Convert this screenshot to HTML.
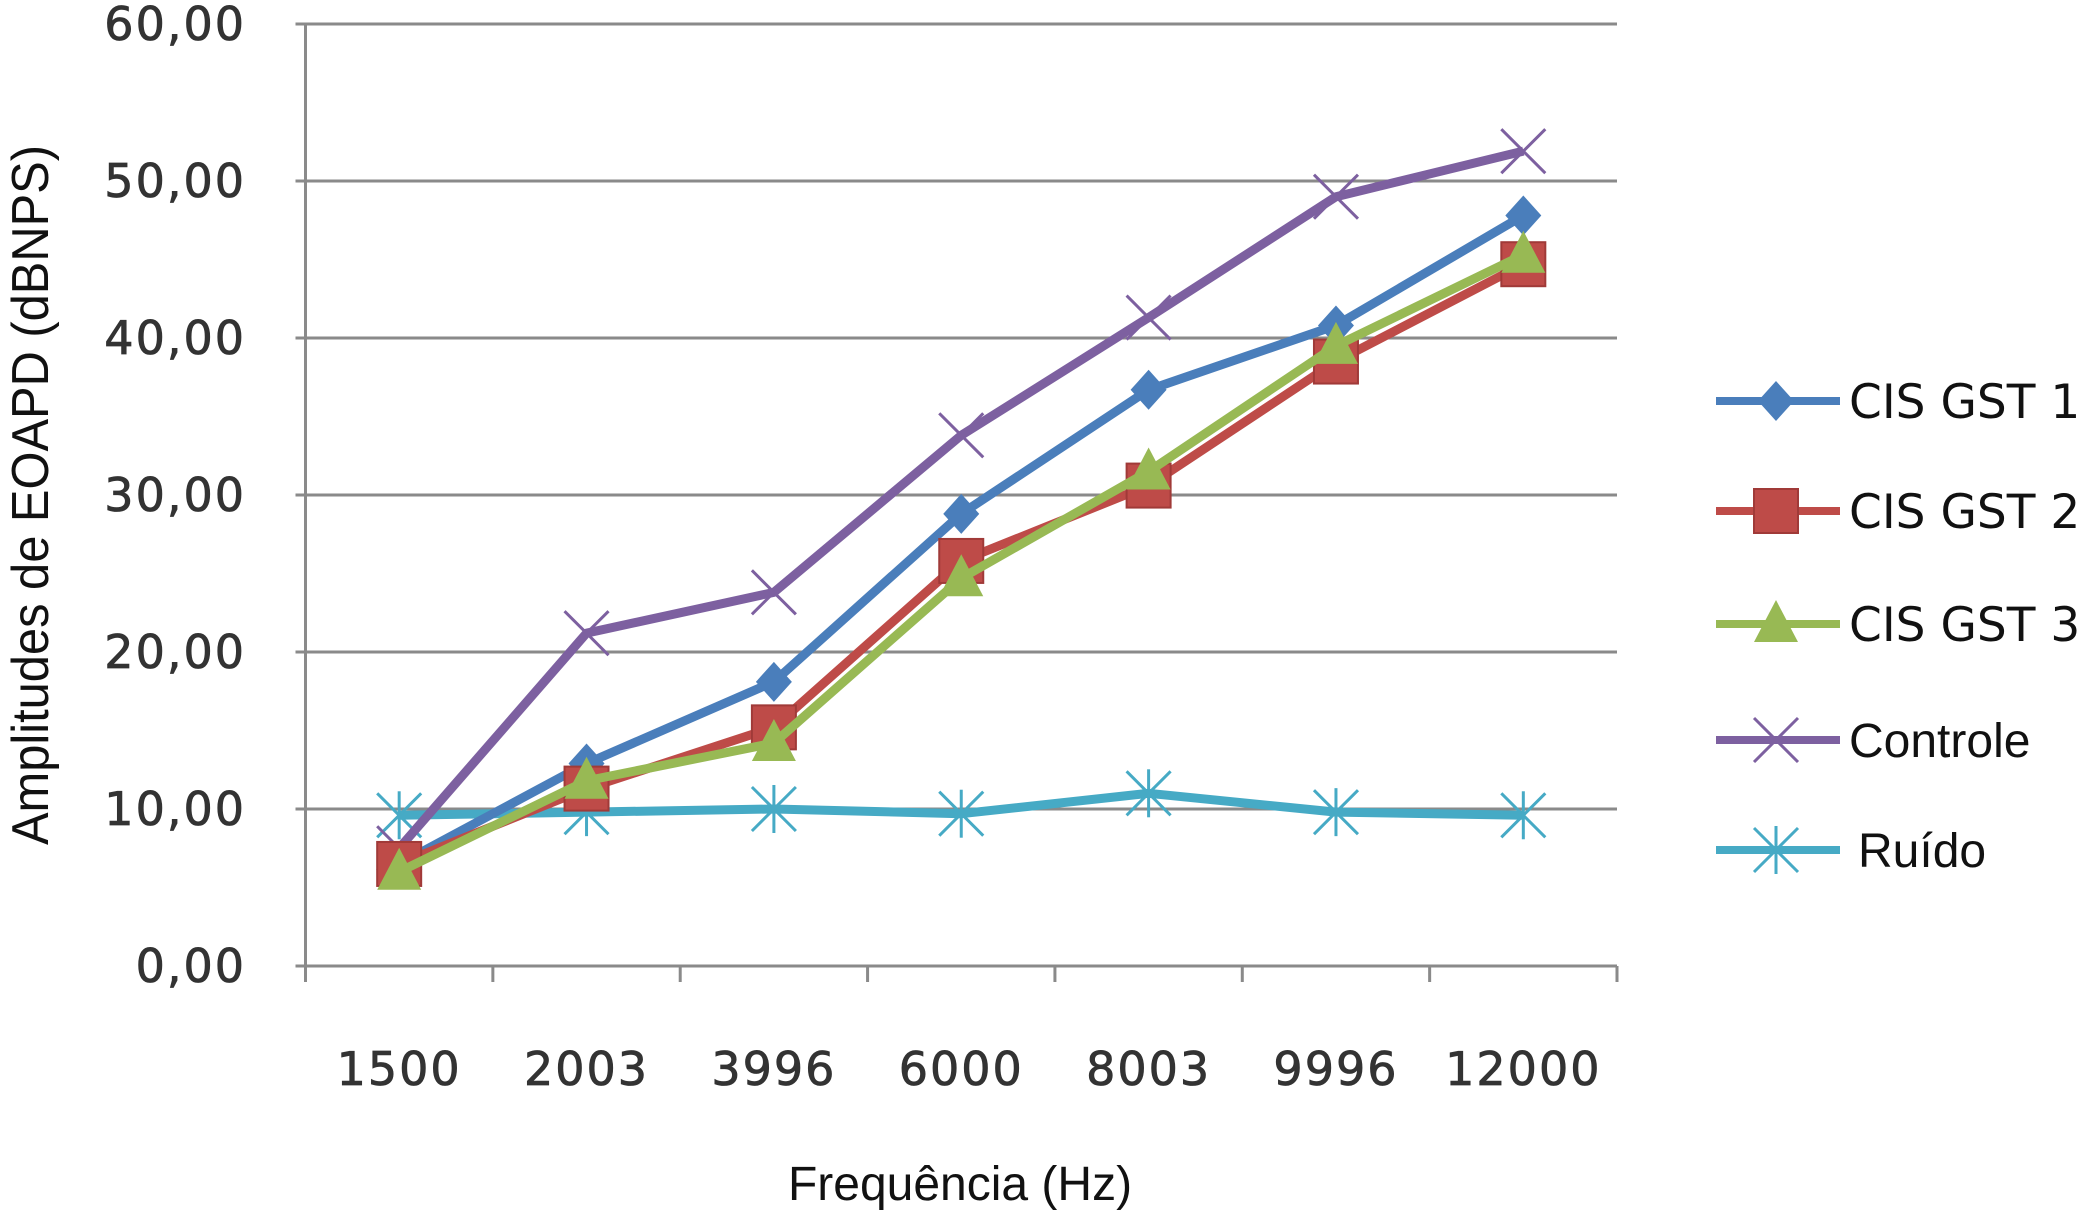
<!DOCTYPE html>
<html><head><meta charset="utf-8"><style>
html,body{margin:0;padding:0;background:#fff;width:2083px;height:1222px;overflow:hidden}
svg{display:block}
</style></head><body>
<svg id="chart" width="2083" height="1222" viewBox="0 0 2083 1222" xmlns="http://www.w3.org/2000/svg"></svg>
<script>
const categories = ["1500","2003","3996","6000","8003","9996","12000"];
const yTicks = [0,10,20,30,40,50,60];
const yTickLabels = ["0,00","10,00","20,00","30,00","40,00","50,00","60,00"];
const seriesNames = ["CIS GST 1","CIS GST 2","CIS GST 3","Controle","Ruído"];
const gst1 = [6.5,12.9,18.1,28.8,36.7,40.8,47.8];
const gst2 = [6.5,11.3,15.2,25.8,30.6,38.5,44.7];
const gst3 = [6.0,11.8,14.2,24.7,31.5,39.5,45.3];
const controle = [7.5,21.2,23.8,33.8,41.3,49.0,51.9];
const ruido = [9.6,9.8,10.0,9.7,11.0,9.8,9.6];

const NS="http://www.w3.org/2000/svg";
const svg=document.getElementById('chart');
const L=305.5,R=1617,T=24,B=966,YMAX=60;
const band=(R-L)/categories.length;
const xS=i=>L+band*(i+0.5);
const yS=v=>B-(v/YMAX)*(B-T);
function mk(tag,attrs,parent){const e=document.createElementNS(NS,tag);for(const k in attrs)e.setAttribute(k,attrs[k]);(parent||svg).appendChild(e);return e;}

yTicks.forEach((t,i)=>{
  const g=mk('line',{x1:L-10,x2:R,y1:yS(t),y2:yS(t),stroke:'#8a8a8a','stroke-width':3});
  
  
  const tx=mk('text',{x:246,y:yS(t)+16,'text-anchor':'end','font-family':'DejaVu Sans, sans-serif','font-size':46,fill:'#333',stroke:'#333','stroke-width':0.8,'letter-spacing':2});
  tx.textContent=yTickLabels[i];
  
  
});
const ya=mk('line',{x1:L,x2:L,y1:T,y2:B+14,stroke:'#8a8a8a','stroke-width':3});


for(let i=0;i<=categories.length;i++){
  const tk=mk('line',{x1:L+band*i,x2:L+band*i,y1:B,y2:B+16,stroke:'#8a8a8a','stroke-width':3});
  
  
}
categories.forEach((c,i)=>{
  const tx=mk('text',{x:xS(i),y:1085,'text-anchor':'middle','font-family':'DejaVu Sans, sans-serif','font-size':46,fill:'#333',stroke:'#333','stroke-width':0.8,'letter-spacing':2});
  tx.textContent=c;
  
  
});
const yt=mk('text',{x:0,y:0,transform:'translate(48,495) rotate(-90)','text-anchor':'middle','font-family':'Liberation Sans, sans-serif','font-size':52,fill:'#111',textLength:700,lengthAdjust:'spacingAndGlyphs'});
yt.textContent='Amplitudes de EOAPD (dBNPS)';


const xt=mk('text',{x:960,y:1200,'text-anchor':'middle','font-family':'Liberation Sans, sans-serif','font-size':48,fill:'#111'});
xt.textContent='Frequência (Hz)';



const colors=['#4a7ebb','#be4b48','#98b954','#7d60a0','#46aac5'];
const markers=['diamond','square','triangle','x','star'];
function marker(type,x,y,col,parent){
  if(type==='diamond')return mk('polygon',{points:`${x},${y-20} ${x+18},${y} ${x},${y+20} ${x-18},${y}`,fill:col},parent);
  if(type==='square')return mk('rect',{x:x-22,y:y-22,width:44,height:44,fill:col,stroke:'#a03a38','stroke-width':2},parent);
  if(type==='triangle')return mk('polygon',{points:`${x},${y-24} ${x+22},${y+18} ${x-22},${y+18}`,fill:col},parent);
  const g=mk('g',{stroke:col,'stroke-width':3},parent);
  mk('line',{x1:x-22,y1:y-22,x2:x+22,y2:y+22},g);mk('line',{x1:x-22,y1:y+22,x2:x+22,y2:y-22},g);
  if(type==='star'){mk('line',{x1:x,y1:y-24,x2:x,y2:y+24},g);}
  return g;
}
const allSeries=[gst1,gst2,gst3,controle,ruido];
const drawOrder=[4,3,0,1,2];
drawOrder.forEach(s=>{
  const data=allSeries[s];
  const g=mk('g',{});
  
  
  const pl=mk('polyline',{points:data.map((v,i)=>xS(i)+','+yS(v)).join(' '),fill:'none',stroke:colors[s],'stroke-width':9,'stroke-linejoin':'round'},g);
  
  
  data.forEach((v,i)=>{
    const m=marker(markers[s],xS(i),yS(v),colors[s],g);
    
    
  });
});
const legY=[401,511,624,740,850];
const lg=mk('g',{});


seriesNames.forEach((n,s)=>{
  const e=mk('g',{},lg);
  
  
  mk('line',{x1:1716,x2:1840,y1:legY[s],y2:legY[s],stroke:colors[s],'stroke-width':8},e);
  marker(markers[s],1776,legY[s],colors[s],e);
  const isVerd=s<3;
  const t=mk('text',{x:s===4?1858:1849,y:legY[s]+17,'font-family':isVerd?'DejaVu Sans, sans-serif':'Liberation Sans, sans-serif','font-size':isVerd?47:48,fill:'#111'},e);
  t.textContent=n;
});
</script>
</body></html>
